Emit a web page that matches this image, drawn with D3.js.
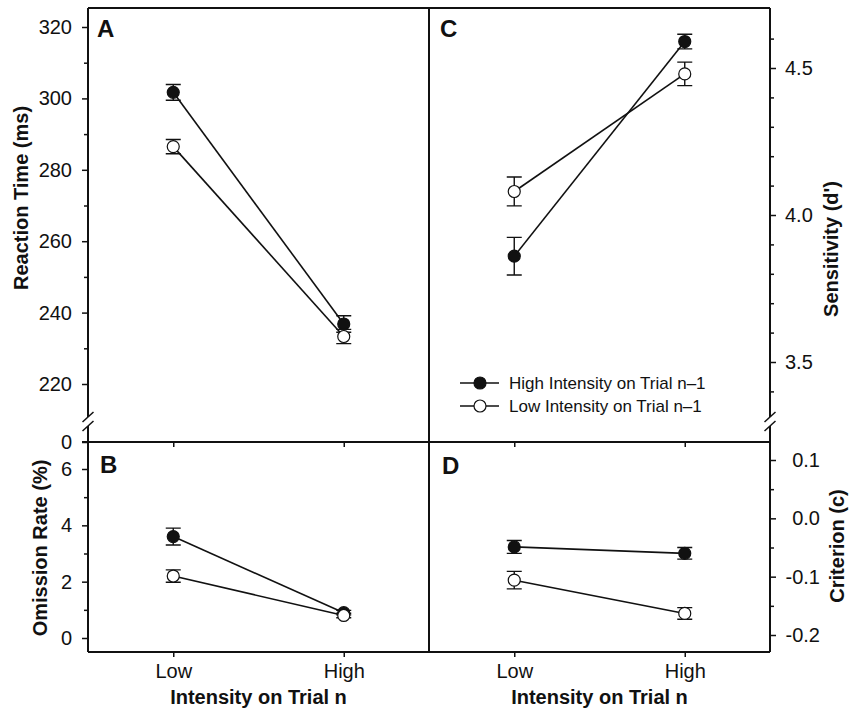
<!DOCTYPE html>
<html>
<head>
<meta charset="utf-8">
<script src="https://cdn.jsdelivr.net/npm/d3@7"></script>
<style>
  body { margin: 0; background: #fff; }
  svg text { font-family: "Liberation Sans", Arial, sans-serif; fill: #111; }
</style>
</head>
<body>
<svg id="fig" width="849" height="710"></svg>
<script>
const conditions = ['Low', 'High'];
const legendNames = ['High Intensity on Trial n\u20131', 'Low Intensity on Trial n\u20131'];

// A: reaction time (ms)
const rtHigh = [301.7, 236.8];
const rtHighErr = [2.2, 2.3];
const rtLow = [286.5, 233.3];
const rtLowErr = [2.0, 2.0];

// B: omission rate (%)
const omHigh = [3.6, 0.9];
const omHighErr = [0.3, 0.08];
const omLow = [2.2, 0.8];
const omLowErr = [0.22, 0.08];

// C: sensitivity (d')
const dHigh = [3.86, 4.59];
const dHighErr = [0.064, 0.025];
const dLow = [4.08, 4.48];
const dLowErr = [0.049, 0.04];

// D: criterion (c)
const cHigh = [-0.049, -0.060];
const cHighErr = [0.011, 0.01];
const cLow = [-0.106, -0.163];
const cLowErr = [0.015, 0.01];

// tick values
const rtTicks = [220, 240, 260, 280, 300, 320];
const rtMinor = [230, 250, 270, 290, 310];
const rtStub = [0];
const omTicks = [0, 2, 4, 6];
const omMinor = [1, 3, 5];
const dTicks = [3.5, 4.0, 4.5];
const dMinor = [3.4, 3.6, 3.7, 3.8, 3.9, 4.1, 4.2, 4.3, 4.4, 4.6];
const cTicks = [-0.2, -0.1, 0.0, 0.1];
const cMinor = [-0.15, -0.05, 0.05];

const ink = '#111';
const font = '"Liberation Sans", Arial, sans-serif';
const svg = d3.select('#fig');

// frame layout
const left = 88, mid = 429, right = 770;
const frameTop = 8, split = 442, frameBottom = 652;
const breakA = 417, breakB = 426;

const xL = d3.scalePoint().domain(conditions).range([left, mid]).padding(0.5);
const xR = d3.scalePoint().domain(conditions).range([mid, right]).padding(0.5);
const yA = d3.scaleLinear().domain([220, 320]).range([384, 27]);
const yA0 = d3.scaleLinear().domain([0, 1]).range([split, split - 20]); // stub below the break
const yB = d3.scaleLinear().domain([0, 6]).range([638, 469]);
const yC = d3.scaleLinear().domain([3.5, 4.5]).range([362, 68]);
const yD = d3.scaleLinear().domain([-0.2, 0.1]).range([635, 460]);

const intFmt = d3.format('d');
const decFmt = d => d.toFixed(1);

function drawAxis(gen, x, y) {
  const g = svg.append('g')
    .attr('transform', `translate(${x},${y})`)
    .call(gen)
    .attr('font-size', 20)
    .attr('font-family', font);
  g.select('.domain').remove();
  g.selectAll('line').attr('stroke', ink).attr('stroke-width', 1.5);
  g.selectAll('text').attr('fill', ink);
  return g;
}

// left axes
drawAxis(d3.axisLeft(yA).tickValues(rtTicks).tickSize(6).tickPadding(10).tickFormat(intFmt), left, 0);
drawAxis(d3.axisLeft(yA).tickValues(rtMinor).tickSize(4).tickFormat(''), left, 0);
drawAxis(d3.axisLeft(yA0).tickValues(rtStub).tickSize(6).tickPadding(10).tickFormat(intFmt), left, 0);
drawAxis(d3.axisLeft(yB).tickValues(omTicks).tickSize(6).tickPadding(10).tickFormat(intFmt), left, 0);
drawAxis(d3.axisLeft(yB).tickValues(omMinor).tickSize(4).tickFormat(''), left, 0);

// right axes
drawAxis(d3.axisRight(yC).tickValues(dTicks).tickSize(6).tickPadding(9).tickFormat(decFmt), right, 0);
drawAxis(d3.axisRight(yC).tickValues(dMinor).tickSize(4).tickFormat(''), right, 0);
drawAxis(d3.axisRight(yD).tickValues(cTicks).tickSize(6).tickFormat(decFmt), right, 0)
  .selectAll('text').attr('text-anchor', 'end').attr('x', 50);
drawAxis(d3.axisRight(yD).tickValues(cMinor).tickSize(4).tickFormat(''), right, 0);

// x ticks, inner (below the split) and bottom with labels
[xL, xR].forEach((x) => {
  drawAxis(d3.axisBottom(x).tickSize(5).tickFormat(''), 0, split);
  drawAxis(d3.axisBottom(x).tickSize(5).tickPadding(7), 0, frameBottom);
});

// frame lines, with breaks on both y axes
const frame = svg.append('g').attr('stroke', ink).attr('stroke-width', 2).attr('fill', 'none');
const segs = [
  [left, frameTop, right, frameTop],
  [left - 6, split, right, split],
  [left, frameBottom, right, frameBottom],
  [mid, frameTop, mid, frameBottom],
  [left, frameTop, left, breakA],
  [left, breakB, left, frameBottom],
  [right, frameTop, right, breakA],
  [right, breakB, right, frameBottom],
];
segs.forEach((s) => {
  frame.append('line').attr('x1', s[0]).attr('y1', s[1]).attr('x2', s[2]).attr('y2', s[3]);
});
[left, right].forEach((x) => {
  [breakA, breakB].forEach((y) => {
    frame.append('line')
      .attr('stroke-width', 1.5)
      .attr('x1', x - 5.5).attr('y1', y + 5)
      .attr('x2', x + 5.5).attr('y2', y - 5);
  });
});

// data panels
const panels = [
  { x: xL, y: yA, series: [[rtHigh, rtHighErr], [rtLow, rtLowErr]] },
  { x: xL, y: yB, series: [[omHigh, omHighErr], [omLow, omLowErr]] },
  { x: xR, y: yC, series: [[dHigh, dHighErr], [dLow, dLowErr]] },
  { x: xR, y: yD, series: [[cHigh, cHighErr], [cLow, cLowErr]] },
];

panels.forEach((p) => {
  const data = p.series.map(([vals, errs]) => conditions.map((c, j) => ({ c, v: vals[j], e: errs[j] })));
  const line = d3.line().x(d => p.x(d.c)).y(d => p.y(d.v));

  data.forEach((pts) => {
    svg.append('path')
      .datum(pts)
      .attr('d', line)
      .attr('fill', 'none')
      .attr('stroke', ink)
      .attr('stroke-width', 1.6);
  });

  data.forEach((pts, i) => {
    svg.append('g').selectAll('path')
      .data(pts)
      .enter()
      .append('path')
      .attr('d', (d) => {
        const cx = p.x(d.c);
        const y1 = p.y(d.v + d.e);
        const y2 = p.y(d.v - d.e);
        return `M${cx},${y1}V${y2}M${cx - 7.5},${y1}h15M${cx - 7.5},${y2}h15`;
      })
      .attr('fill', 'none')
      .attr('stroke', ink)
      .attr('stroke-width', 1.4);

    svg.append('g').selectAll('circle')
      .data(pts)
      .enter()
      .append('circle')
      .attr('cx', d => p.x(d.c))
      .attr('cy', d => p.y(d.v))
      .attr('r', 6)
      .attr('fill', i === 0 ? ink : '#fff')
      .attr('stroke', ink)
      .attr('stroke-width', 1.2);
  });
});

// panel letters
[['A', 97, 37], ['B', 100, 473], ['C', 440, 37], ['D', 442, 474]].forEach((l) => {
  svg.append('text')
    .attr('x', l[1]).attr('y', l[2])
    .attr('font-size', 24).attr('font-weight', 'bold')
    .text(l[0]);
});

// axis titles
const titles = [
  ['Reaction Time (ms)', 28, 198],
  ['Omission Rate (%)', 47, 548],
  ['Sensitivity (d\')', 838, 249],
  ['Criterion (c)', 844, 546],
];
titles.forEach((t) => {
  svg.append('text')
    .attr('transform', `translate(${t[1]},${t[2]}) rotate(-90)`)
    .attr('text-anchor', 'middle')
    .attr('font-size', 20).attr('font-weight', 'bold')
    .text(t[0]);
});
[(left + mid) / 2, (mid + right) / 2].forEach((cx) => {
  svg.append('text')
    .attr('x', cx).attr('y', 704)
    .attr('text-anchor', 'middle')
    .attr('font-size', 20).attr('font-weight', 'bold')
    .text('Intensity on Trial n');
});

// legend
const legend = svg.append('g').attr('transform', 'translate(460,383)');
legendNames.forEach((name, i) => {
  const row = legend.append('g').attr('transform', `translate(0,${i * 23})`);
  row.append('line').attr('x1', 0).attr('x2', 39).attr('stroke', ink).attr('stroke-width', 1.6);
  row.append('circle').attr('cx', 20).attr('r', 6)
    .attr('fill', i === 0 ? ink : '#fff').attr('stroke', ink).attr('stroke-width', 1.2);
  row.append('text').attr('x', 49).attr('dy', '0.35em').attr('font-size', 17).text(name);
});
</script>
</body>
</html>
